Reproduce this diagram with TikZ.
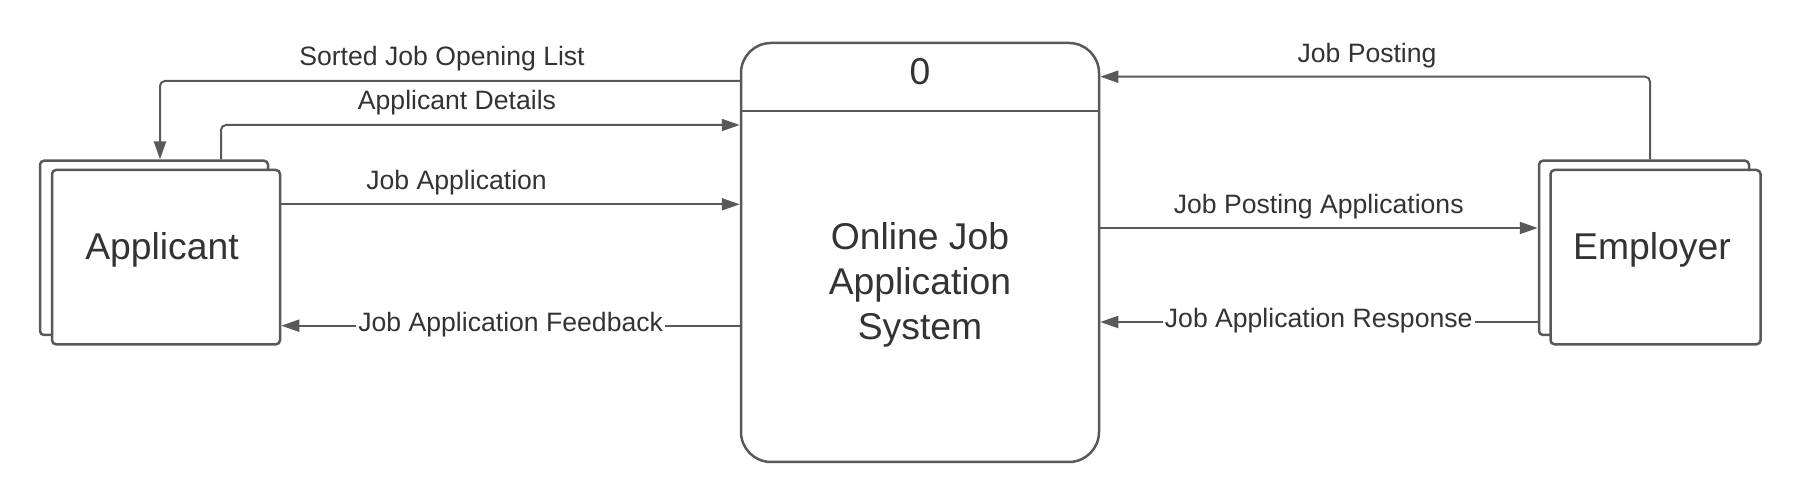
\documentclass[tikz,border=0pt]{standalone}
\usepackage{fontspec}
\setmainfont{Liberation Sans}
\usepackage{tikz}
\usetikzlibrary{arrows.meta}
\definecolor{lineGray}{RGB}{89,89,89}
\definecolor{textDark}{RGB}{51,51,51}

\begin{document}
\begin{tikzpicture}[x=0.5pt,y=-0.5pt,
  boxline/.style={draw=lineGray, line width=1.25pt},
  entity/.style={boxline, fill=white, rounded corners=2pt, minimum height=87.15pt, inner sep=0pt},
  process/.style={boxline, rounded corners=15pt, minimum width=179pt, minimum height=209.5pt, inner sep=0pt},
  flow/.style={draw=lineGray, line width=1pt, rounded corners=2.5pt, -{Triangle[length=9pt,width=6pt]}},
  flowlbl/.style={text=textDark, font=\fontsize{13.3}{16}\selectfont, inner sep=1pt},
  bigtext/.style={text=textDark, font=\fontsize{18.65}{22.5}\selectfont, inner sep=0pt}]
\useasboundingbox (0,0) rectangle (1800,501);

%Shape: Process [0]
\node[process] (process) at (920,252.5) {};
\draw[boxline] (process.west |- 0,111) -- (process.east |- 0,111);
% Text Node
\node[bigtext, anchor=base] (procNum) at (920,85) {0};
\node[bigtext, align=center] (procName) at (920,284.6) {Online Job\\Application\\System};

%Shape: Applicant (stacked)
\node[entity, minimum width=114pt] (applicantBack) at (154,247.85) {};
\node[entity, minimum width=114pt] (applicant) at (166,257.15) {};
\node[bigtext, anchor=base] (applicantName) at (162,260) {Applicant};

%Shape: Employer (stacked)
\node[entity, minimum width=105pt] (employerBack) at (1644,247.85) {};
\node[entity, minimum width=105pt] (employer) at (1655.5,257.15) {};
\node[bigtext, anchor=base] (employerName) at (1652,260) {Employer};

%Flows: left side
\draw[flow] (process.west |- 0,81) -| (160,0 |- applicantBack.north);
\draw[flow] (221,0 |- applicantBack.north) |- (process.west |- 0,125);
\draw[flow] (applicant.east |- 0,204.3) -- (process.west |- 0,204.3);
\draw[flow] (process.west |- 0,325.7) -- (applicant.east |- 0,325.7);
%Flows: right side
\draw[flow] (1650,0 |- employerBack.north) |- (process.east |- 0,76.7);
\draw[flow] (process.east |- 0,228) -- (employerBack.west |- 0,228);
\draw[flow] (employerBack.west |- 0,322) -- (process.east |- 0,322);

% Text Node
\node[flowlbl, anchor=base] (lblSorted) at (442,66) {Sorted Job Opening List};
\node[flowlbl, anchor=base] (lblDetails) at (457,110) {Applicant Details};
\node[flowlbl, anchor=base] (lblJobApp) at (456.6,189.3) {Job Application};
\node[flowlbl, anchor=base, fill=white] (lblFeedback) at (510.7,331.7) {Job Application Feedback};
\node[flowlbl, anchor=base] (lblPosting) at (1367,62.3) {Job Posting};
\node[flowlbl, anchor=base] (lblPostApps) at (1318.7,213.3) {Job Posting Applications};
\node[flowlbl, anchor=base, fill=white] (lblResponse) at (1318.7,327.7) {Job Application Response};

\end{tikzpicture}
\end{document}
